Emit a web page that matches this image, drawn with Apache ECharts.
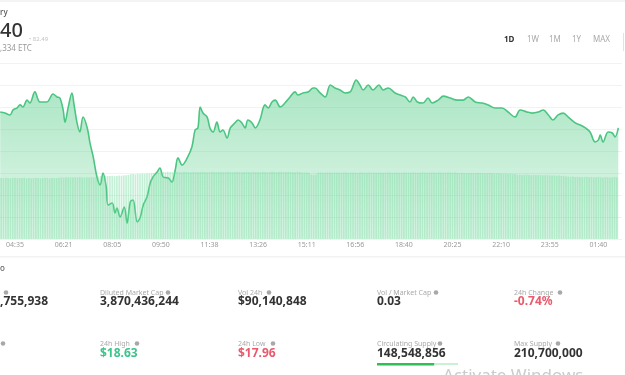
<!DOCTYPE html>
<html><head><meta charset="utf-8">
<script src="https://cdn.jsdelivr.net/npm/echarts@6/dist/echarts.min.js"></script>
<style>html,body{margin:0;padding:0;background:#fff}#c{width:625px;height:375px}</style>
</head><body><div id="c"></div>
<script>
// x values are minutes relative to the 04:35 tick
const tickLabels = ['04:35','06:21','08:05','09:50','11:38','13:26','15:11','16:56','18:40','20:25','22:10','23:55','01:40'];
const tickStep = 105;
const ranges = ['1D','1W','1M','1Y','MAX'];

const pricePoints = [
[-32,18.486],[-22,18.481],[-11,18.472],[-4,18.496],[4,18.505],[11,18.520],[17,18.510],[26,18.543],[32,18.529],[43,18.582],
[54,18.534],[69,18.534],[82,18.572],[91,18.558],[97,18.553],[104,18.496],[108,18.438],[115,18.510],[123,18.577],[127,18.529],
[134,18.434],[140,18.391],[147,18.462],[156,18.410],[162,18.338],[169,18.271],[177,18.176],[184,18.138],[190,18.195],[197,18.128],
[201,18.042],[210,18.052],[216,18.004],[220,18.028],[227,17.985],[236,18.033],[242,17.956],[249,18.057],[255,18.066],[264,17.961],
[270,17.980],[277,18.042],[285,18.080],[292,18.147],[298,18.176],[307,18.200],[313,18.219],[320,18.176],[331,18.171],[339,18.152],
[346,18.209],[352,18.267],[361,18.233],[372,18.267],[382,18.319],[389,18.400],[395,18.410],[400,18.510],[406,18.481],[415,18.462],
[421,18.410],[428,18.391],[436,18.438],[443,18.391],[449,18.400],[458,18.362],[465,18.410],[475,18.434],[482,18.448],[490,18.434],
[497,18.410],[503,18.448],[512,18.434],[519,18.410],[529,18.448],[540,18.520],[547,18.505],[555,18.534],[562,18.543],[573,18.510],
[583,18.529],[594,18.558],[605,18.582],[611,18.567],[622,18.577],[633,18.582],[644,18.601],[648,18.601],[659,18.577],[670,18.558],
[681,18.615],[691,18.601],[702,18.591],[713,18.577],[724,18.582],[737,18.639],[745,18.615],[752,18.591],[763,18.615],[773,18.591],
[786,18.615],[795,18.591],[806,18.601],[821,18.577],[832,18.567],[843,18.558],[853,18.534],[860,18.558],[869,18.534],[881,18.529],
[892,18.553],[901,18.529],[914,18.543],[925,18.562],[940,18.553],[955,18.543],[968,18.543],[979,18.558],[994,18.534],[1009,18.529],
[1022,18.520],[1037,18.505],[1052,18.505],[1065,18.486],[1080,18.462],[1091,18.496],[1106,18.486],[1117,18.481],[1130,18.486],[1141,18.496],
[1152,18.472],[1162,18.448],[1173,18.472],[1184,18.481],[1195,18.462],[1210,18.434],[1221,18.424],[1232,18.410],[1242,18.391],[1253,18.343],
[1260,18.353],[1264,18.376],[1270,18.343],[1281,18.391],[1290,18.386],[1296,18.367],[1303,18.410]
];

// 5-minute volume bars (thousand USD), first bar at minute volStart
const volStart = -30, volStep = 5;
const volumes = [
305,304,306,305,303,305,306,304,305,305,306,304,305,303,305,306,305,304,305,306,305,304,306,305,305,306,
308,307,309,308,308,307,309,308,310,308,307,309,308,310,309,311,312,
315,314,316,315,315,316,314,315,317,316,318,319,320,
324,325,323,326,325,327,326,328,327,329,330,331,332,
334,335,334,336,335,334,335,336,335,334,336,335,335,334,336,335,334,335,336,335,
334,335,336,335,334,336,335,335,334,336,335,334,335,336,335,334,335,336,335,334,
336,335,335,334,336,335,334,335,336,335,334,335,336,335,334,336,335,335,334,336,335,
333,332,333,331,
322,321,323,
332,333,331,332,333,332,331,333,332,332,331,333,332,331,332,333,332,331,332,333,
332,331,333,332,332,331,333,332,331,332,333,332,331,332,333,332,331,333,332,332,
331,333,332,331,332,333,332,331,332,333,332,331,333,332,332,331,333,332,331,332,
331,330,331,330,329,330,
330,329,330,331,329,330,328,329,330,329,327,328,329,327,326,327,325,326,324,325,
322,321,320,321,322,320,319,321,320,319,320,318,319,320,318,317,318,316,317,315,316,
313,312,311,312,310,311,310,309,310,311,309,310,308,309,310,309,308,310,309,308,309,310,309
];

const statLabels = [['', 'Diluted Market Cap', 'Vol 24h', 'Vol / Market Cap', '24h Change'],
                    ['', '24h High', '24h Low', 'Circulating Supply', 'Max Supply']];
const statValues = [[',755,938', '3,870,436,244', '$90,140,848', '0.03', '-0.74%'],
                    ['', '$18.63', '$17.96', '148,548,856', '210,700,000']];
const statColors = [['#333','#333','#333','#333','#ea5a6c'],['#333','#3cc48c','#ea5a6c','#333','#333']];
const supplyShare = 148548856 / 210700000;

const chart = echarts.init(document.getElementById('c'));
const FF = '"Noto Sans", sans-serif';
const colX = [0, 100, 238, 377, 514];
const iconX = [[6,168,269,436,560],[3,137,273,440,558]];
const rowY = [[293,304],[344,356]];

const g = [];
g.push({type:'rect', shape:{x:0,y:0,width:625,height:2}, style:{fill:'#f3f3f3'}});
g.push({type:'text', left:0, top:9, style:{text:'ry', font:'500 8px '+FF, fill:'#555'}});
g.push({type:'text', left:0, top:21, style:{text:'40', font:'500 20px '+FF, fill:'#333'}});
g.push({type:'text', left:29, top:36, style:{text:'• 82.49', font:'6px '+FF, fill:'#c4c4c4'}});
g.push({type:'text', left:0, top:45, style:{text:',334 ETC', font:'8px '+FF, fill:'#999'}});
const rx = [504, 527, 549, 572, 593];
ranges.forEach((r,i)=>g.push({type:'text', left:rx[i], top:36, style:{text:r, font:(i===0?'bold ':'')+'8px '+FF, fill:i===0?'#333':'#aaa'}}));
g.push({type:'rect', shape:{x:623,y:33,width:1,height:18}, style:{fill:'#e2e2e2'}});
g.push({type:'rect', shape:{x:0,y:256,width:625,height:1.5}, style:{fill:'#f2f2f2'}});
g.push({type:'text', left:0, top:265, style:{text:'o', font:'500 8px '+FF, fill:'#666'}});
for (let r=0;r<2;r++){
  for (let c=0;c<5;c++){
    if (statLabels[r][c]) g.push({type:'text', left:colX[c], top:rowY[r][0]-4, style:{text:statLabels[r][c], font:'7px '+FF, fill:'#aaa'}});
    g.push({type:'circle', shape:{cx:iconX[r][c], cy:rowY[r][0]-0.5, r:2.3}, style:{fill:'#a8a8a8'}});
    if (statValues[r][c]) g.push({type:'text', left:colX[c], top:rowY[r][1]-8, style:{text:statValues[r][c], font:'bold 12px '+FF, fill:statColors[r][c]}});
  }
}
g.push({type:'rect', shape:{x:377,y:363,width:81,height:2}, style:{fill:'#c9f1d3'}});
g.push({type:'rect', shape:{x:377,y:363,width:81*supplyShare,height:2.5}, style:{fill:'#2fbf55'}});
g.push({type:'text', left:443, top:368, style:{text:'Activate Windows', font:'17px '+FF, fill:'rgba(160,160,160,0.55)'}});

chart.setOption({
  animation:false,
  grid:{left:-33.6, right:3, top:63, bottom:136, containLabel:false, outerBoundsMode:'none'},
  xAxis:{type:'value', min:-tickStep, max:1311, interval:tickStep,
    axisLine:{show:false}, axisTick:{show:false}, splitLine:{show:false},
    axisLabel:{fontSize:7, color:'#9a9a9a', margin:2, fontFamily:FF, showMaxLabel:false,
      formatter:v=>{const i=Math.round(v/tickStep); if (Math.abs(v-i*tickStep)>1e-6) return ''; return (i>=0&&i<tickLabels.length)?tickLabels[i]:'';}}},
  yAxis:[
    {type:'value', min:17.88, max:18.72, show:false},
    {type:'value', min:0, max:880, interval:110, position:'right',
      axisLine:{show:false}, axisTick:{show:false}, axisLabel:{show:false},
      splitLine:{lineStyle:{color:'#f2f2f2', width:1}}}
  ],
  series:[
    {type:'line', yAxisIndex:0, data:pricePoints, smooth:0.35, symbol:'none',
      lineStyle:{color:'#4cc582', width:1.6},
      areaStyle:{color:new echarts.graphic.LinearGradient(0,0,0,1,[
        {offset:0,color:'rgba(70,200,125,0.66)'},{offset:1,color:'rgba(70,200,125,0.2)'}])},
      z:2},
    {type:'bar', yAxisIndex:1, barWidth:1.7,
      data:volumes.map((v,i)=>[volStart+i*volStep, v]),
      itemStyle:{color:'rgba(110,218,155,0.40)'}, z:3}
  ],
  graphic:g
});
</script></body></html>
